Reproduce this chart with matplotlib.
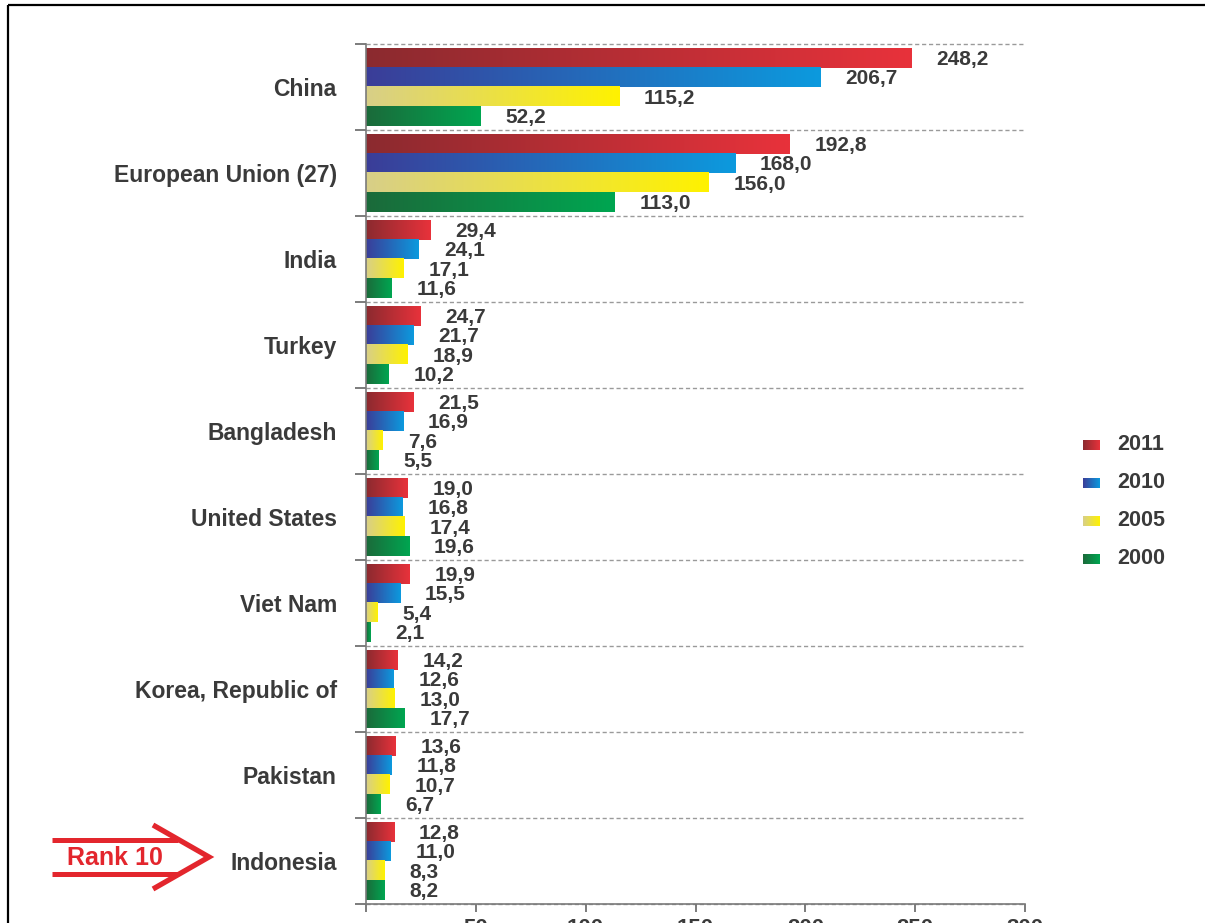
import numpy as np
import matplotlib
matplotlib.use('Agg')
import matplotlib.pyplot as plt
from matplotlib.colors import LinearSegmentedColormap

plt.rcParams['font.family'] = ['Liberation Sans', 'DejaVu Sans']
plt.rcParams['font.weight'] = 'bold'

# ---- data ----
countries = ['China', 'European Union (27)', 'India', 'Turkey', 'Bangladesh',
             'United States', 'Viet Nam', 'Korea, Republic of', 'Pakistan',
             'Indonesia']
years = ['2011', '2010', '2005', '2000']
v2011 = [248.2, 192.8, 29.4, 24.7, 21.5, 19.0, 19.9, 14.2, 13.6, 12.8]
v2010 = [206.7, 168.0, 24.1, 21.7, 16.9, 16.8, 15.5, 12.6, 11.8, 11.0]
v2005 = [115.2, 156.0, 17.1, 18.9, 7.6, 17.4, 5.4, 13.0, 10.7, 8.3]
v2000 = [52.2, 113.0, 11.6, 10.2, 5.5, 19.6, 2.1, 17.7, 6.7, 8.2]
xticks = [0, 50, 100, 150, 200, 250, 300]
xticklabels = ['', '50', '100', '150', '200', '250', '300']
rank_label = 'Rank 10'

# dark -> bright gradient per series
GRAD = {'2011': ('#8b2a2f', '#e8323b'),
        '2010': ('#3b3d98', '#0c9ade'),
        '2005': ('#d8cf88', '#fff200'),
        '2000': ('#1b6a3a', '#00a651')}
TXT = '#3a3a3a'
RED = '#e3262d'

W, H = 1205, 923
fig = plt.figure(figsize=(W / 100, H / 100), dpi=100, facecolor='white')
ax = fig.add_axes([366 / W, 1 - 904 / H, 659 / W, 860 / H])

series = [v2011, v2010, v2005, v2000]
bh = 0.226
grad = np.linspace(0, 1, 256).reshape(1, -1)
for j, (yr, vals) in enumerate(zip(years, series)):
    cmap = LinearSegmentedColormap.from_list(yr, GRAD[yr])
    off = (j - 1.5) * bh
    for i, v in enumerate(vals):
        yc = i + off
        ax.imshow(grad, cmap=cmap, extent=[0, v, yc + bh / 2, yc - bh / 2],
                  aspect='auto', interpolation='bilinear', zorder=2)
        ax.annotate(f'{v:.1f}'.replace('.', ','), (v, yc), xytext=(18, -1),
                    textcoords='offset points', ha='left', va='center',
                    fontsize=15, fontweight='bold', color=TXT)

ax.set_xlim(0, 300)
ax.set_ylim(len(countries) - 0.5, -0.5)

for b in np.arange(-0.5, len(countries)):
    ax.axhline(b, color='#9a9a9a', lw=1, ls=(0, (3, 2)), zorder=1, clip_on=False)

for s in ['top', 'right']:
    ax.spines[s].set_visible(False)
for s in ['left', 'bottom']:
    ax.spines[s].set_color('#7a7a7a')
    ax.spines[s].set_linewidth(1.2)

ax.set_yticks(range(len(countries)))
ax.set_yticklabels(countries, fontsize=16.5, fontweight='bold', color=TXT)
ax.set_yticks(np.arange(-0.5, len(countries)), minor=True)
ax.tick_params(axis='y', which='major', length=0, pad=21)
ax.tick_params(axis='y', which='minor', length=8, width=1.2, color='#666666')
ax.set_xticks(xticks)
ax.set_xticklabels(xticklabels, fontsize=16, fontweight='bold', color=TXT)
ax.tick_params(axis='x', length=6, width=1.2, color='#666666', pad=4)

# ---- overlay: frame, rank arrow, legend (pixel coords) ----
ov = fig.add_axes([0, 0, 1, 1])
ov.axis('off')
for k, yr in enumerate(years):
    y = 445 + 38 * k
    cmap = LinearSegmentedColormap.from_list('lg' + yr, GRAD[yr])
    ov.imshow(grad, cmap=cmap, extent=[1083, 1100, y + 5, y - 5],
              aspect='auto', interpolation='bilinear')
    ov.text(1117, y, yr, ha='left', va='center', fontsize=15.5,
            fontweight='bold', color=TXT)
ov.set_xlim(0, W)
ov.set_ylim(H, 0)

ov.plot([8, W], [5, 5], color='black', lw=1.6, solid_capstyle='butt')
ov.plot([8, 8], [5, H], color='black', lw=1.6, solid_capstyle='butt')

ov.plot([52, 178], [840, 840], color=RED, lw=3.6, solid_capstyle='butt')
ov.plot([52, 178], [874, 874], color=RED, lw=3.6, solid_capstyle='butt')
ov.plot([153, 209, 153], [825, 857, 889], color=RED, lw=3.8,
        solid_joinstyle='miter', solid_capstyle='butt')
ov.text(115, 858, rank_label, ha='center', va='center', fontsize=18,
        fontweight='bold', color=RED)

fig.savefig('out.png', dpi=100)
